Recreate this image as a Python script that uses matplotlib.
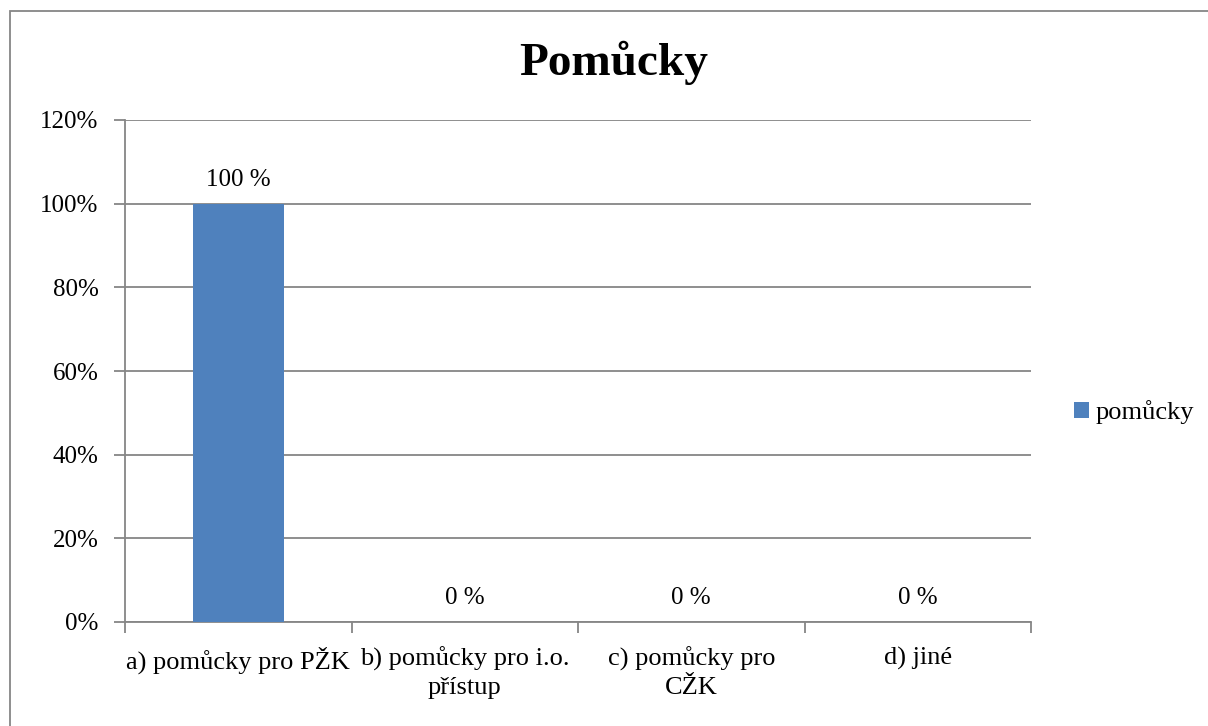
import matplotlib.pyplot as plt
from matplotlib.patches import Rectangle
from matplotlib.ticker import PercentFormatter

# Data
categories = ['a) pomůcky pro PŽK', 'b) pomůcky pro i.o.\npřístup',
              'c) pomůcky pro\nCŽK', 'd) jiné']
values = [100, 0, 0, 0]
series_name = 'pomůcky'

serif = ['Liberation Serif', 'DejaVu Serif']
plt.rcParams['font.family'] = serif

fig = plt.figure(figsize=(12.08, 7.26), dpi=100)
ax = fig.add_axes([125 / 1208, 1 - 622 / 726, 906 / 1208, 502 / 726])

x = list(range(len(categories)))
bars = ax.bar(x, values, width=0.4, color='#4F81BD', label=series_name, zorder=3)
ax.bar_label(bars, labels=[f'{v} %' for v in values], padding=9, fontsize=18,
             family=serif)

ax.set_xlim(-0.5, len(categories) - 0.5)
ax.set_ylim(0, 120)
ax.set_yticks(range(0, 121, 20))
ax.yaxis.set_major_formatter(PercentFormatter(decimals=0))
ax.grid(axis='y', color='#868686', linewidth=1.3, zorder=0)

# category labels between boundary ticks
ax.set_xticks([i - 0.5 for i in range(len(categories) + 1)])
ax.set_xticklabels([])
ax.set_xticks(x, minor=True)
ax.set_xticklabels(categories, minor=True, fontsize=19, family=serif,
                   multialignment='center', linespacing=1.35)
ax.tick_params(axis='x', which='minor', length=0, pad=18)
ax.tick_params(axis='x', which='major', length=8, width=1.3, color='#868686')
ax.tick_params(axis='y', length=8, width=1.3, color='#868686', labelsize=18, pad=11)

for s in ['top', 'right']:
    ax.spines[s].set_visible(False)
for s in ['left', 'bottom']:
    ax.spines[s].set_color('#868686')
    ax.spines[s].set_linewidth(1.3)

fig.text(614 / 1208, 1 - 63 / 726, 'Pomůcky', ha='center', va='center',
         fontsize=34, fontweight='bold', family=serif)

fig.legend(loc='center left', bbox_to_anchor=(1074 / 1208, 1 - 412 / 726),
           frameon=False, fontsize=19, handlelength=0.55, handleheight=0.55,
           handletextpad=0.25, borderpad=0, borderaxespad=0)

# outer chart border (right and bottom edges fall outside the image)
fig.patches.append(Rectangle((9.5 / 1208, -0.05), 1.2, 1 - 11.5 / 726 + 0.05,
                             transform=fig.transFigure, fill=False,
                             edgecolor='#868686', linewidth=1.3))

fig.savefig('out.png', dpi=100)
